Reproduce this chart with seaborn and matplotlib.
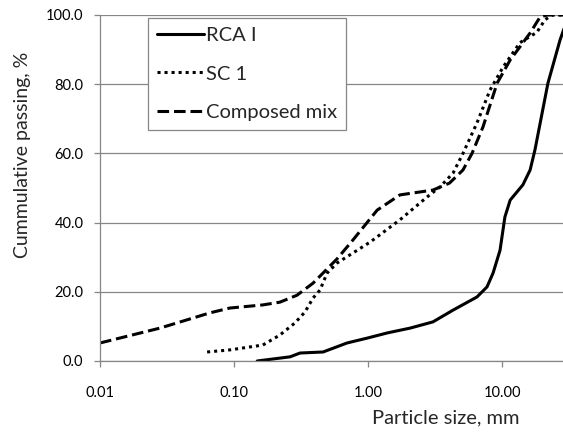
import pandas as pd
import seaborn as sns
import numpy as np
import matplotlib.pyplot as plt
from matplotlib.ticker import FixedLocator, FormatStrFormatter, NullLocator

# grading curves (size in mm, passing in %)
rca_size = [0.149, 0.262, 0.311, 0.462, 0.697, 0.984, 1.39, 2.06, 3.05, 4.31, 6.50, 7.72,
            8.57, 9.66, 10.5, 11.5, 14.3, 16.2, 17.6, 22.0, 27.1, 31.5]
rca_pass = [0.0, 1.2, 2.3, 2.6, 5.2, 6.6, 8.1, 9.5, 11.3, 14.7, 18.5, 21.4,
            25.4, 32.0, 41.6, 46.5, 50.9, 55.2, 61.0, 80.3, 92.8, 100.0]

sc_size = [0.063, 0.093, 0.164, 0.220, 0.285, 0.339, 0.389, 0.438, 0.495, 0.587, 1.04, 1.73,
           2.76, 3.44, 4.31, 5.11, 6.5, 8.13, 10.2, 13.6, 18.2, 20.9, 23.6, 31.5]
sc_pass = [2.6, 3.2, 4.6, 7.5, 11.0, 14.2, 18.2, 20.5, 25.4, 28.3, 34.4, 40.8,
           47.4, 50.3, 54.3, 60.0, 68.8, 78.3, 85.0, 92.0, 95.0, 98.6, 100.0, 100.0]

mix_size = [0.01, 0.028, 0.066, 0.093, 0.164, 0.220, 0.295, 0.389, 0.587, 0.773, 1.17, 1.73,
            3.05, 4.05, 5.11, 5.97, 7.2, 9.19, 11.5, 13.6, 16.2, 19.2, 21.7, 31.5]
mix_pass = [5.2, 9.5, 13.9, 15.3, 16.2, 17.0, 19.0, 22.5, 29.5, 35.0, 43.6, 48.0,
            49.4, 51.4, 55.2, 60.0, 67.6, 80.3, 87.0, 90.8, 94.8, 99.4, 100.0, 100.0]

series_names = ["RCA I", "SC 1", "Composed mix"]
x_ticks = [0.01, 0.1, 1, 10]
y_ticks = [0, 20, 40, 60, 80, 100]

df = pd.concat([
    pd.DataFrame({"size": rca_size, "passing": rca_pass, "series": series_names[0]}),
    pd.DataFrame({"size": sc_size, "passing": sc_pass, "series": series_names[1]}),
    pd.DataFrame({"size": mix_size, "passing": mix_pass, "series": series_names[2]}),
], ignore_index=True)

sns.set_style("white")
plt.rcParams["font.family"] = ["Lato", "DejaVu Sans"]

grey = "#868686"
fig = plt.figure(figsize=(5.63, 4.32), dpi=100)
ax = fig.add_axes([0.1776, 0.1644, 0.8224, 0.8009])

dashes = {"RCA I": "", "SC 1": (1, 1.3), "Composed mix": (3.8, 1.6)}
sns.lineplot(data=df, x="size", y="passing", style="series", style_order=series_names,
             dashes=dashes, color="black", linewidth=2.2, estimator=None, sort=False,
             ax=ax)

ax.set_xscale("log")
ax.set_xlim(0.01, 28.5)
ax.set_ylim(0, 100)
ax.xaxis.set_major_locator(FixedLocator(x_ticks))
ax.xaxis.set_minor_locator(NullLocator())
ax.xaxis.set_major_formatter(FormatStrFormatter("%.2f"))
ax.yaxis.set_major_locator(FixedLocator(y_ticks))
ax.yaxis.set_major_formatter(FormatStrFormatter("%.1f"))

ax.grid(axis="y", color=grey, linewidth=0.9)
ax.grid(axis="x", visible=False)
ax.set_axisbelow(True)
for side in ["top", "right"]:
    ax.spines[side].set_visible(False)
for side in ["left", "bottom"]:
    ax.spines[side].set_color(grey)
    ax.spines[side].set_linewidth(0.9)
ax.tick_params(axis="both", which="major", direction="out", length=4, width=0.9,
               color=grey, labelsize=10.5, labelcolor="black")
ax.tick_params(axis="x", pad=14, bottom=True)
ax.tick_params(axis="y", pad=8, left=True)

ax.set_xlabel("Particle size, mm", fontsize=14.5)
ax.set_ylabel("Cummulative passing, %", fontsize=14)
ax.xaxis.label.set_va("center")
ax.yaxis.label.set_va("center")
ax.xaxis.set_label_coords(0.747, -0.165)
ax.yaxis.set_label_coords(-0.168, 0.595)

handles, labels = ax.get_legend_handles_labels()
leg = ax.legend(handles, labels, loc="upper left", bbox_to_anchor=(0.104, 0.991),
                borderaxespad=0, fontsize=14.5, handlelength=2.3, handletextpad=0.1,
                labelspacing=1.05, borderpad=0.45, frameon=True, fancybox=False,
                framealpha=1, edgecolor=grey)
leg.get_frame().set_linewidth(0.9)

fig.savefig("out.png", dpi=100)
